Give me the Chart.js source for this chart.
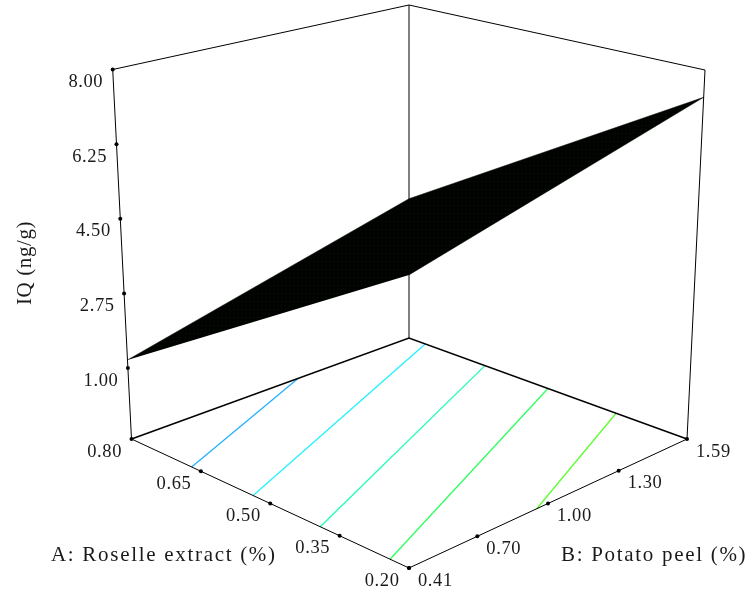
<!DOCTYPE html>
<html>
<head>
<meta charset="utf-8">
<script src="https://cdn.jsdelivr.net/npm/chart.js@4/dist/chart.umd.min.js"></script>
<style>html,body{margin:0;padding:0;background:#fff}canvas{display:block}</style>
</head>
<body>
<canvas id="c" width="750" height="592"></canvas>
<script>
// ---- data ----
const aTicks = [0.80, 0.65, 0.50, 0.35, 0.20];
const bTicks = [0.41, 0.70, 1.00, 1.30, 1.59];
const zTicks = [8.00, 6.25, 4.50, 2.75, 1.00];
const aLimits = [0.20, 0.80];
const bLimits = [0.41, 1.59];
const zLimits = [-0.663, 8.00];   // floor plane of the box, top of the box

// response surface corners (A, B, IQ)
const surfaceA = [0.80, 0.80, 0.20, 0.20];
const surfaceB = [0.41, 1.59, 1.59, 0.41];
const surfaceZ = [1.19, 2.96, 7.36, 5.46];

// contour lines on the floor: start and end in (A, B)
const contourA = [[0.670, 0.800], [0.537, 0.765], [0.392, 0.636], [0.241, 0.500], [0.200, 0.353]];
const contourB = [[0.41, 1.118], [0.41, 1.59], [0.41, 1.59], [0.41, 1.59], [0.952, 1.59]];
const contourColors = ['#22b0ff', '#22f0ff', '#1cffb0', '#2dff5d', '#5cff2d'];

const titleA = 'A: Roselle extract (%)';
const titleB = 'B: Potato peel (%)';
const titleZ = 'IQ (ng/g)';

// ---- viewing box: where the box corners land on the page ----
const view = {
  floor: {front: [409, 568], left: [131.5, 439], right: [687, 439], back: [409, 338]},
  top:   {front: [409, 153.3], left: [112.7, 69.5], right: [705, 70], back: [409, 5]}
};
function plane(p, fa, fb) {
  const q = k => (1 - fa) * (1 - fb) * p.front[k] + fa * (1 - fb) * p.left[k] +
                 (1 - fa) * fb * p.right[k] + fa * fb * p.back[k];
  return [q(0), q(1)];
}
function project(A, B, Z) {
  const fa = (A - aLimits[0]) / (aLimits[1] - aLimits[0]);
  const fb = (B - bLimits[0]) / (bLimits[1] - bLimits[0]);
  const fz = (Z - zLimits[0]) / (zLimits[1] - zLimits[0]);
  const lo = plane(view.floor, fa, fb), hi = plane(view.top, fa, fb);
  return {x: lo[0] + (hi[0] - lo[0]) * fz, y: lo[1] + (hi[1] - lo[1]) * fz};
}

const [aLo, aHi] = aLimits, [bLo, bHi] = bLimits, [zLo, zHi] = zLimits;
function line(pts, width, color, order) {
  return {type: 'scatter', showLine: true, data: pts.map(p => project(p[0], p[1], p[2])),
          borderColor: color, borderWidth: width, pointRadius: 0, fill: false, tension: 0, order};
}

// mesh texture of the surface: near-black with faint dark green dots
const tile = document.createElement('canvas');
tile.width = 4; tile.height = 4;
const tileCtx = tile.getContext('2d');
tileCtx.fillStyle = '#010301';
tileCtx.fillRect(0, 0, 4, 4);
tileCtx.fillStyle = '#031403';
tileCtx.fillRect(1, 1, 1, 1);
const surfaceFill = tileCtx.createPattern(tile, 'repeat');

const datasets = [];
// box edges
datasets.push(line([[aHi, bLo, zLo], [aHi, bLo, zHi], [aHi, bHi, zHi], [aLo, bHi, zHi], [aLo, bHi, zLo]], 1, '#000', 50));
datasets.push(line([[aHi, bHi, zLo], [aHi, bHi, zHi]], 1, '#000', 50));
datasets.push(line([[aHi, bLo, zLo], [aLo, bLo, zLo], [aLo, bHi, zLo]], 1, '#000', 30));
datasets.push(line([[aHi, bLo, zLo], [aHi, bHi, zLo], [aLo, bHi, zLo]], 1.6, '#000', 30));
// contours
contourA.forEach((as, i) => {
  datasets.push(line(as.map((a, j) => [a, contourB[i][j], zLo]), 1.3, contourColors[i], 40));
});
// surface
datasets.push({type: 'scatter', showLine: true,
  data: surfaceA.map((a, i) => project(a, surfaceB[i], surfaceZ[i])),
  borderColor: '#010301', backgroundColor: surfaceFill, borderWidth: 0.5, pointRadius: 0, fill: 'shape', order: 20});
// tick dots
const dots = [
  ...aTicks.map(a => project(a, bLo, zLo)),
  ...bTicks.map(b => project(aLo, b, zLo)),
  ...zTicks.map(z => project(aHi, bLo, z))
];
datasets.push({type: 'scatter', showLine: false, data: dots, pointRadius: 2, borderWidth: 0,
  pointBackgroundColor: '#000', order: 10});

const labels = {
  id: 'boxLabels',
  afterDraw(chart) {
    const ctx = chart.ctx, sx = chart.scales.x, sy = chart.scales.y;
    const put = (txt, p, dx, dy, align) => {
      ctx.textAlign = align;
      ctx.fillText(txt, sx.getPixelForValue(p.x) + dx, sy.getPixelForValue(p.y) + dy);
    };
    ctx.save();
    ctx.fillStyle = '#1a1a1a';
    ctx.textBaseline = 'alphabetic';
    ctx.font = '18.5px "Liberation Serif"';
    ctx.letterSpacing = '0.6px';
    aTicks.forEach(a => put(a.toFixed(2), project(a, bLo, zLo), -9.5, 17.5, 'right'));
    zTicks.forEach(z => put(z.toFixed(2), project(aHi, bLo, z), -9.5, 17.5, 'right'));
    bTicks.forEach(b => put(b.toFixed(2), project(aLo, b, zLo), 9, 17.5, 'left'));
    ctx.font = '21px "Liberation Serif"';
    ctx.letterSpacing = '1.7px';
    ctx.textAlign = 'left';
    ctx.fillText(titleA, 51, 560.5);
    ctx.fillText(titleB, 561, 560.5);
    ctx.letterSpacing = '0.6px';
    ctx.translate(31, 305);
    ctx.rotate(-Math.PI / 2);
    ctx.fillText(titleZ, 0, 0);
    ctx.restore();
  }
};

new Chart(document.getElementById('c'), {
  data: {datasets},
  plugins: [labels],
  options: {
    responsive: false, animation: false, devicePixelRatio: 1,
    layout: {padding: 0, autoPadding: false},
    plugins: {legend: {display: false}, tooltip: {enabled: false}, title: {display: false}},
    scales: {
      x: {type: 'linear', min: 0, max: 750, display: false},
      y: {type: 'linear', min: 0, max: 592, reverse: true, display: false}
    },
    clip: false
  }
});
</script>
</body>
</html>
